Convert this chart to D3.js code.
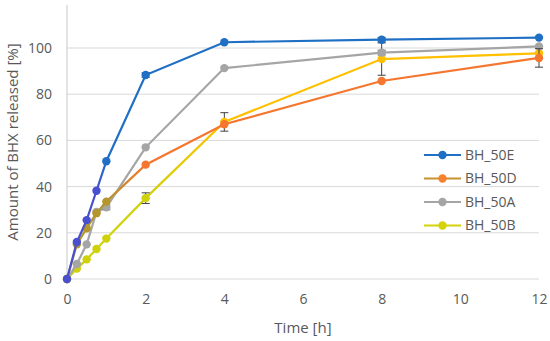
<!DOCTYPE html>
<html>
<head>
<meta charset="utf-8">
<script src="https://cdn.jsdelivr.net/npm/d3@7"></script>
<style>
  body { margin: 0; background: #fff; }
  text { font-family: "Open Sans", sans-serif; fill: #595959; }
</style>
</head>
<body>
<div id="chart"></div>
<script>
// data
var times = [0, 0.25, 0.5, 0.75, 1, 2, 4, 8, 12];
var seriesNames = ["BH_50E", "BH_50D", "BH_50A", "BH_50B"];
var bh50E = [0, 16, 25.5, 38.2, 51, 88.3, 102.5, 103.6, 104.5];
var bh50D = [0, 15, 22, 28.5, 33.5, 49.5, 67, 85.7, 95.7];
var bh50A = [0, 6.5, 15, 29, 31, 57, 91.3, 98, 100.7];
var bh50B = [0, 4.5, 8.5, 13, 17.5, 35, 68, 95.2, 97.7];
var err50E = [0, 0.5, 0.5, 0.5, 0.5, 1, 0.5, 1, 0.5];
var err50D = [0, 0.5, 0.5, 0.5, 0.5, 0.5, 0.5, 0.5, 4];
var err50A = [0, 0.5, 0.5, 0.5, 1, 0.5, 0.5, 1, 0.5];
var err50B = [0, 0.5, 0.5, 0.5, 0.5, 2.3, 4, 7, 0.5];
var xTicks = [0, 2, 4, 6, 8, 10, 12];
var yTicks = [0, 20, 40, 60, 80, 100];

// colours: early part of each line / later part / legend line
var colors = [
    {early: "#4a4fcf", late: "#1f6fc5", legend: "#1f6fc5", marker: "#1f6fc5"},
    {early: "#b4962c", late: "#f5762e", legend: "#c8922e", marker: "#f5822e"},
    {early: "#a5a5a5", late: "#a5a5a5", legend: "#a5a5a5", marker: "#a5a5a5"},
    {early: "#cfd20a", late: "#ffc000", legend: "#d6d20a", marker: "#d6d20a"}
];
var switchAt = [[0.75, 1], [1, 2], [0, 0], [2, 4]];

var width = 550, height = 341;
var margin = {top: 5, right: 11, bottom: 62, left: 67};

var x = d3.scaleLinear().domain([0, 12]).range([margin.left, width - margin.right]);
var y = d3.scaleLinear().domain([0, 100]).range([height - margin.bottom, 48]);

var svg = d3.select("#chart").append("svg")
    .attr("width", width)
    .attr("height", height);

// gridlines
svg.append("g").selectAll("line")
    .data(yTicks)
    .enter().append("line")
    .attr("x1", x(0)).attr("x2", x(12))
    .attr("y1", function(d) { return y(d); })
    .attr("y2", function(d) { return y(d); })
    .style("stroke", "#d9d9d9")
    .style("stroke-width", 1);

// vertical axis line
svg.append("line")
    .attr("x1", x(0)).attr("x2", x(0))
    .attr("y1", margin.top).attr("y2", y(0))
    .style("stroke", "#c8c8c8")
    .style("stroke-width", 1);

// y axis
var yAxis = svg.append("g")
    .attr("transform", "translate(" + (x(0) - 15) + ",0)")
    .call(d3.axisLeft(y).tickValues(yTicks).tickSize(0));
yAxis.select(".domain").remove();
yAxis.selectAll("text")
    .attr("x", 0)
    .style("font-size", "14px")
    .style("font-family", "Open Sans, sans-serif")
    .style("fill", "#595959");

// x axis
var xAxis = svg.append("g")
    .attr("transform", "translate(0," + (y(0) + 12) + ")")
    .call(d3.axisBottom(x).tickValues(xTicks).tickSize(0));
xAxis.select(".domain").remove();
xAxis.selectAll("text")
    .style("font-size", "14px")
    .style("font-family", "Open Sans, sans-serif")
    .style("fill", "#595959");

// axis titles
svg.append("text")
    .attr("transform", "rotate(-90)")
    .attr("x", -(y(0) + margin.top) / 2)
    .attr("y", 18)
    .style("text-anchor", "middle")
    .style("font-size", "15px")
    .text("Amount of BHX released [%]");

svg.append("text")
    .attr("x", (x(0) + x(12)) / 2)
    .attr("y", 333)
    .style("text-anchor", "middle")
    .style("font-size", "15px")
    .text("Time [h]");

var allValues = [bh50E, bh50D, bh50A, bh50B];
var allErrors = [err50E, err50D, err50A, err50B];

// gradients so each line fades from its early to late colour
var defs = svg.append("defs");
colors.forEach(function(c, i) {
    var g = defs.append("linearGradient")
        .attr("id", "grad" + i)
        .attr("gradientUnits", "userSpaceOnUse")
        .attr("x1", x(0)).attr("x2", x(12)).attr("y1", 0).attr("y2", 0);
    var a = (x(switchAt[i][0]) - x(0)) / (x(12) - x(0));
    var b = (x(switchAt[i][1]) - x(0)) / (x(12) - x(0));
    g.append("stop").attr("offset", a).attr("stop-color", c.early);
    g.append("stop").attr("offset", b).attr("stop-color", c.late);
});

function pointColor(i, t) {
    var c = colors[i];
    if (t <= switchAt[i][0]) return c.early;
    if (t >= switchAt[i][1]) return c.late;
    return d3.interpolateRgb(c.early, c.late)((t - switchAt[i][0]) / (switchAt[i][1] - switchAt[i][0]));
}

var line = d3.line()
    .x(function(d) { return x(d.t); })
    .y(function(d) { return y(d.v); });

// draw in reverse so BH_50E sits on top
[3, 2, 1, 0].forEach(function(i) {
    var pts = times.map(function(t, k) {
        return {t: t, v: allValues[i][k], e: allErrors[i][k]};
    });

    svg.append("path")
        .datum(pts)
        .attr("d", line)
        .style("fill", "none")
        .style("stroke", "url(#grad" + i + ")")
        .style("stroke-width", 2.2);

    // error bars
    var eb = svg.append("g").selectAll("g")
        .data(pts.filter(function(d) { return d.e > 0.6; }))
        .enter().append("g")
        .style("stroke", "#404040")
        .style("stroke-width", 1);
    eb.append("line")
        .attr("x1", function(d) { return x(d.t); })
        .attr("x2", function(d) { return x(d.t); })
        .attr("y1", function(d) { return y(d.v - d.e); })
        .attr("y2", function(d) { return y(d.v + d.e); });
    eb.append("line")
        .attr("x1", function(d) { return x(d.t) - 4; })
        .attr("x2", function(d) { return x(d.t) + 4; })
        .attr("y1", function(d) { return y(d.v - d.e); })
        .attr("y2", function(d) { return y(d.v - d.e); });
    eb.append("line")
        .attr("x1", function(d) { return x(d.t) - 4; })
        .attr("x2", function(d) { return x(d.t) + 4; })
        .attr("y1", function(d) { return y(d.v + d.e); })
        .attr("y2", function(d) { return y(d.v + d.e); });

    svg.append("g").selectAll("circle")
        .data(pts)
        .enter().append("circle")
        .attr("cx", function(d) { return x(d.t); })
        .attr("cy", function(d) { return y(d.v); })
        .attr("r", 4.2)
        .style("fill", function(d) { return pointColor(i, d.t); });
});

// legend
var legend = svg.append("g").selectAll("g")
    .data(seriesNames)
    .enter().append("g")
    .attr("transform", function(d, i) { return "translate(424," + (155 + i * 23.5) + ")"; });
legend.append("line")
    .attr("x1", 0).attr("x2", 37)
    .style("stroke", function(d, i) { return colors[i].legend; })
    .style("stroke-width", 2.2);
legend.append("circle")
    .attr("cx", 18.5)
    .attr("r", 4.2)
    .style("fill", function(d, i) { return colors[i].marker; });
legend.append("text")
    .attr("x", 41)
    .attr("dy", "0.35em")
    .style("font-size", "14px")
    .text(function(d) { return d; });
</script>
</body>
</html>
